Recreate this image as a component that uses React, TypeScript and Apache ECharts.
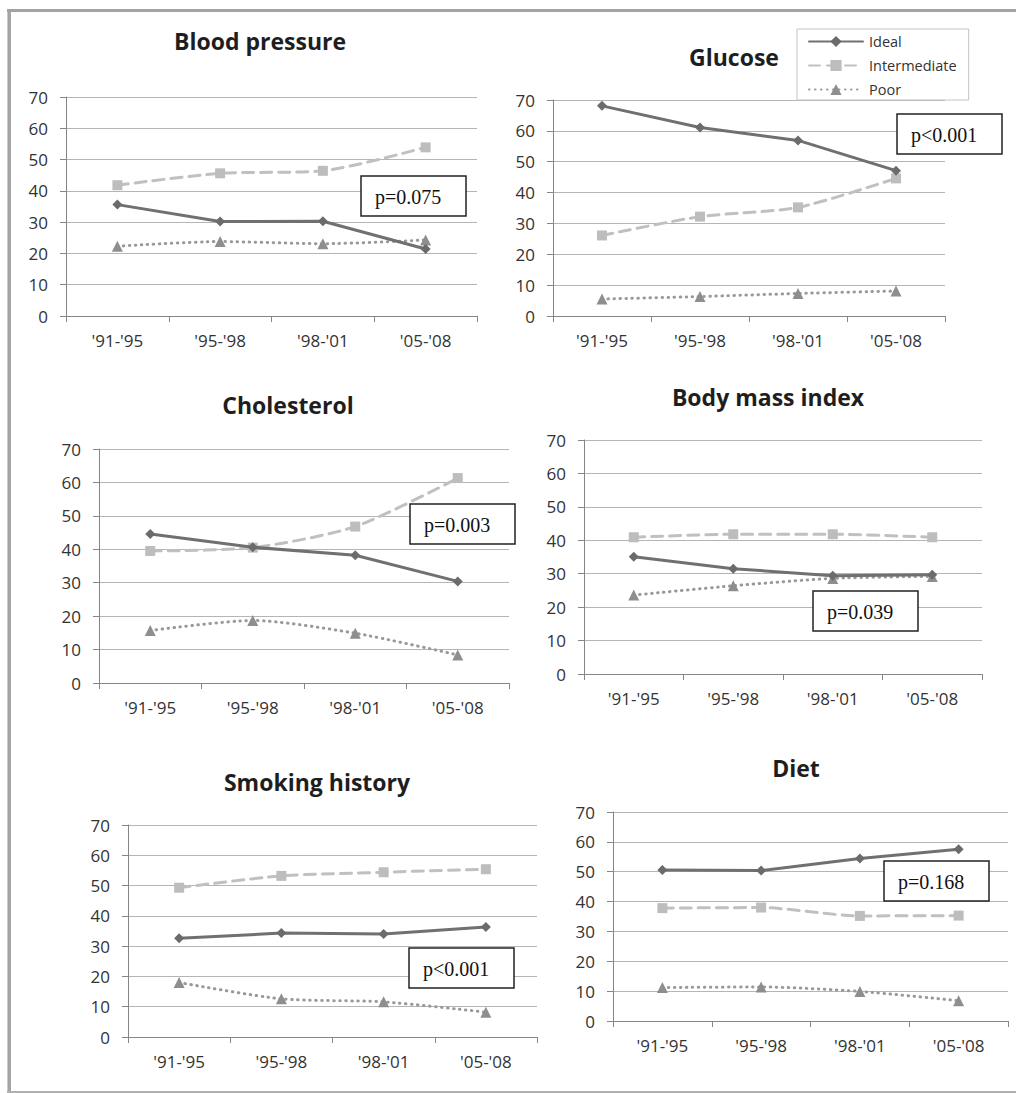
import React, { useEffect, useRef } from "react";
import * as echarts from "echarts";

// ---------- data ----------
const categories = ["'91-'95", "'95-'98", "'98-'01", "'05-'08"];
const seriesNames = ["Ideal", "Intermediate", "Poor"];
const panelTitles = ["Blood pressure", "Glucose", "Cholesterol", "Body mass index", "Smoking history", "Diet"];
const pValues = ["p=0.075", "p<0.001", "p=0.003", "p=0.039", "p<0.001", "p=0.168"];
const yMin = 0;
const yMax = 70;
const yStep = 10;

const bpIdeal = [35.6, 30.2, 30.3, 21.4];
const bpIntermediate = [41.8, 45.6, 46.4, 53.9];
const bpPoor = [22.3, 23.8, 23.1, 24.3];

const glucoseIdeal = [68.1, 61.1, 56.9, 47.1];
const glucoseIntermediate = [26.1, 32.2, 35.2, 44.6];
const glucosePoor = [5.5, 6.3, 7.3, 8.1];

const cholIdeal = [44.6, 40.6, 38.2, 30.4];
const cholIntermediate = [39.5, 40.5, 46.8, 61.3];
const cholPoor = [15.7, 18.7, 14.9, 8.4];

const bmiIdeal = [35.1, 31.5, 29.4, 29.7];
const bmiIntermediate = [40.9, 41.8, 41.8, 40.9];
const bmiPoor = [23.6, 26.4, 28.6, 29.2];

const smokingIdeal = [32.6, 34.3, 34.0, 36.3];
const smokingIntermediate = [49.3, 53.2, 54.4, 55.4];
const smokingPoor = [18.0, 12.6, 11.6, 8.2];

const dietIdeal = [50.6, 50.4, 54.4, 57.5];
const dietIntermediate = [37.8, 38.0, 35.2, 35.3];
const dietPoor = [11.2, 11.4, 9.9, 6.8];

const panelData = [
  [bpIdeal, bpIntermediate, bpPoor],
  [glucoseIdeal, glucoseIntermediate, glucosePoor],
  [cholIdeal, cholIntermediate, cholPoor],
  [bmiIdeal, bmiIntermediate, bmiPoor],
  [smokingIdeal, smokingIntermediate, smokingPoor],
  [dietIdeal, dietIntermediate, dietPoor],
];

// ---------- layout ----------
const gridBoxes = [
  { left: 66, top: 97, width: 411, height: 219 },
  { left: 553, top: 100, width: 392, height: 216 },
  { left: 99, top: 449, width: 410, height: 234 },
  { left: 584, top: 440, width: 398, height: 234 },
  { left: 128, top: 825, width: 409, height: 212 },
  { left: 613, top: 812, width: 395, height: 209 },
];
const titlePos = [
  [260, 41],
  [734, 57],
  [288, 405],
  [768, 397],
  [317, 782],
  [796, 768],
];
const pBoxPos = [
  [361, 176],
  [897, 114],
  [410, 504],
  [813, 591],
  [409, 948],
  [884, 861],
];

const SANS = '"Open Sans", "Noto Sans", sans-serif';
const SERIF = '"Liberation Serif", "Times New Roman", serif';

const seriesStyles = [
  { symbol: "diamond", symbolSize: 10, markColor: "#6b6b6b", lineColor: "#707070", width: 3, type: "solid", smooth: false },
  { symbol: "rect", symbolSize: 10, markColor: "#bdbdbd", lineColor: "#c0c0c0", width: 3, type: [11, 7], smooth: 0.25 },
  { symbol: "triangle", symbolSize: 11, markColor: "#8e8e8e", lineColor: "#999999", width: 3, type: [0.5, 5.5], smooth: 0.25 },
];

function buildOption() {
  const series: any[] = [];
  panelData.forEach((panel, gi) => {
    panel.forEach((values, si) => {
      const st = seriesStyles[si];
      series.push({
        type: "line",
        name: seriesNames[si],
        xAxisIndex: gi,
        yAxisIndex: gi,
        data: values,
        symbol: st.symbol,
        symbolSize: st.symbolSize,
        smooth: st.smooth,
        z: 3 + (2 - si),
        itemStyle: { color: st.markColor },
        lineStyle: { color: st.lineColor, width: st.width, type: st.type, cap: "round" },
        emphasis: { disabled: true },
      });
    });
  });

  const graphics: any[] = [];
  panelTitles.forEach((t, i) => {
    graphics.push({
      type: "text",
      x: titlePos[i][0],
      y: titlePos[i][1],
      z: 20,
      style: {
        text: t,
        font: `bold 23px ${SANS}`,
        fill: "#1e1e1e",
        align: "center",
        verticalAlign: "middle",
        textAlign: "center",
        textVerticalAlign: "middle",
      },
    });
  });
  pValues.forEach((p, i) => {
    const [bx, by] = pBoxPos[i];
    graphics.push({
      type: "rect",
      z: 20,
      shape: { x: bx, y: by, width: 105, height: 40 },
      style: { fill: "#ffffff", stroke: "#222222", lineWidth: 1.5 },
    });
    graphics.push({
      type: "text",
      z: 21,
      x: bx + 14,
      y: by + 21,
      style: {
        text: p,
        font: `20px ${SERIF}`,
        fill: "#111111",
        align: "left",
        verticalAlign: "middle",
        textAlign: "left",
        textVerticalAlign: "middle",
      },
    });
  });
  // outer frame
  graphics.push({ type: "line", z: 30, shape: { x1: 7, y1: 10.5, x2: 1016, y2: 10.5 }, style: { stroke: "#a3a3a3", lineWidth: 3 } });
  graphics.push({ type: "line", z: 30, shape: { x1: 9.2, y1: 9, x2: 9.2, y2: 1093 }, style: { stroke: "#a3a3a3", lineWidth: 3.5 } });
  graphics.push({ type: "line", z: 30, shape: { x1: 7, y1: 1092, x2: 1016, y2: 1092 }, style: { stroke: "#b0b0b0", lineWidth: 2 } });

  return {
    animation: false,
    backgroundColor: "#ffffff",
    legend: {
      data: seriesNames,
      orient: "vertical",
      left: 797,
      top: 29,
      itemWidth: 54,
      itemHeight: 14,
      itemGap: 9,
      padding: [5, 12, 3, 11],
      borderColor: "#c4c4c4",
      borderWidth: 1,
      backgroundColor: "#ffffff",
      selectedMode: false,
      textStyle: { fontFamily: SANS, fontSize: 14.5, color: "#333333", padding: [0, 0, 0, 1] },
      z: 15,
    },
    grid: gridBoxes.map((g) => ({ ...g, containLabel: false })),
    xAxis: gridBoxes.map((_, i) => ({
      type: "category",
      gridIndex: i,
      data: categories,
      boundaryGap: true,
      axisLine: { show: true, lineStyle: { color: "#868686", width: 1 } },
      axisTick: { show: true, length: 6, lineStyle: { color: "#868686" } },
      axisLabel: { margin: 16, fontFamily: SANS, fontSize: 17, color: "#333333" },
      splitLine: { show: false },
    })),
    yAxis: gridBoxes.map((_, i) => ({
      type: "value",
      gridIndex: i,
      min: yMin,
      max: yMax,
      interval: yStep,
      axisLine: { show: true, lineStyle: { color: "#868686", width: 1 } },
      axisTick: { show: true, length: 6, lineStyle: { color: "#868686" } },
      axisLabel: { margin: 18, fontFamily: SANS, fontSize: 17, color: "#333333" },
      splitLine: { show: true, lineStyle: { color: "#b5b5b5", width: 1 } },
    })),
    series,
    graphic: graphics,
  };
}

export default function App() {
  const ref = useRef<HTMLDivElement>(null);
  useEffect(() => {
    if (!ref.current) return;
    const chart = echarts.init(ref.current, null, { renderer: "svg" });
    chart.setOption(buildOption() as any);
    return () => chart.dispose();
  }, []);
  return (
    <div
      ref={ref}
      style={{ position: "absolute", left: 0, top: 0, width: 1016, height: 1093, background: "#fff" }}
    />
  );
}
